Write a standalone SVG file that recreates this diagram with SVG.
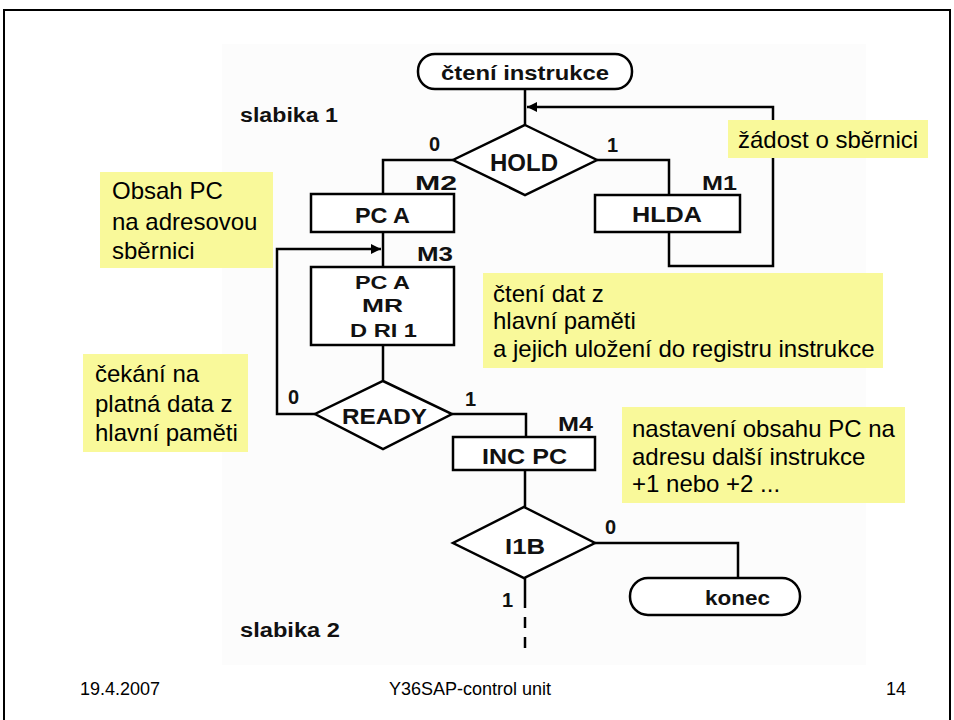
<svg xmlns="http://www.w3.org/2000/svg" width="954" height="720" viewBox="0 0 954 720">
  <style>
    .frame { fill: #ffffff; stroke: #000000; stroke-width: 2; }
    .panel { fill: #fcfcfc; stroke: none; }
    .box { fill: #ffffff; stroke: #000000; stroke-width: 2.5; }
    .term { fill: #ffffff; stroke: #000000; stroke-width: 2.5; }
    .wire { fill: none; stroke: #000000; stroke-width: 2.5; }
    .dash { fill: none; stroke: #000000; stroke-width: 2.5; stroke-dasharray: 11 9; }
    .note { fill: #f9f99a; stroke: none; }
    .fc { font-family: "Liberation Sans", Arial, sans-serif; font-weight: bold; fill: #111111; }
    .nt { font-family: "Liberation Sans", Arial, sans-serif; font-size: 24px; fill: #000000; }
    .ft { font-family: "Liberation Sans", Arial, sans-serif; font-size: 18px; fill: #000000; }
  </style>
  <defs>
    <marker id="arr" viewBox="0 0 10 10" refX="10" refY="5" markerWidth="4" markerHeight="4" orient="auto" markerUnits="strokeWidth">
      <path d="M0,0 L10,5 L0,10 z" fill="#000000"/>
    </marker>
  </defs>

  <!-- slide frame and picture panel -->
  <rect class="frame" x="4" y="10" width="946" height="714"/>
  <rect class="panel" x="222" y="44" width="644" height="621"/>

  <!-- connectors -->
  <g id="connectors">
    <path class="wire" d="M525,90 V125"/>
    <path class="wire" d="M453,160 H383 V194"/>
    <path class="wire" d="M597,160 H669 V195"/>
    <path class="wire" d="M669,232 V266 H773 V107 H527" marker-end="url(#arr)"/>
    <path class="wire" d="M383,232 V267"/>
    <path class="wire" d="M383,345 V380"/>
    <path class="wire" d="M315,414 H277 V249 H381" marker-end="url(#arr)"/>
    <path class="wire" d="M452,414 H526 V437"/>
    <path class="wire" d="M525,470 V507"/>
    <path class="wire" d="M595,543 H738 V578"/>
    <path class="wire" d="M525,578 V608"/>
    <path class="dash" d="M525,617 V652"/>
  </g>

  <!-- flowchart nodes -->
  <g id="start">
    <rect class="term" x="418" y="54" width="214" height="35" rx="17"/>
    <text class="fc" x="525" y="80" font-size="21" text-anchor="middle" textLength="168" lengthAdjust="spacingAndGlyphs">čtení instrukce</text>
  </g>

  <g id="hold">
    <polygon class="box" points="525,125 597,160 525,195 453,160"/>
    <text class="fc" x="524" y="171" font-size="24" text-anchor="middle" textLength="68" lengthAdjust="spacingAndGlyphs">HOLD</text>
    <text class="fc" x="429" y="151" font-size="20">0</text>
    <text class="fc" x="607" y="152" font-size="20">1</text>
  </g>

  <g id="pca">
    <rect class="box" x="311" y="194" width="143" height="38"/>
    <text class="fc" x="415" y="190" font-size="21" textLength="42" lengthAdjust="spacingAndGlyphs">M2</text>
    <text class="fc" x="355" y="223" font-size="22" textLength="55" lengthAdjust="spacingAndGlyphs">PC A</text>
  </g>

  <g id="hlda">
    <rect class="box" x="595" y="195" width="145" height="37"/>
    <text class="fc" x="702" y="190" font-size="21" textLength="35" lengthAdjust="spacingAndGlyphs">M1</text>
    <text class="fc" x="632" y="222" font-size="22" textLength="70" lengthAdjust="spacingAndGlyphs">HLDA</text>
  </g>

  <g id="read">
    <rect class="box" x="311" y="267" width="143" height="78"/>
    <text class="fc" x="417" y="261" font-size="21" textLength="36" lengthAdjust="spacingAndGlyphs">M3</text>
    <text class="fc" x="355" y="289" font-size="19" textLength="55" lengthAdjust="spacingAndGlyphs">PC A</text>
    <text class="fc" x="362" y="312" font-size="19" textLength="41" lengthAdjust="spacingAndGlyphs">MR</text>
    <text class="fc" x="350" y="337" font-size="19" textLength="67" lengthAdjust="spacingAndGlyphs">D RI 1</text>
  </g>

  <g id="ready">
    <polygon class="box" points="383,381 452,414 383,449 315,414"/>
    <text class="fc" x="342" y="424" font-size="22" textLength="85" lengthAdjust="spacingAndGlyphs">READY</text>
    <text class="fc" x="288" y="404" font-size="20">0</text>
    <text class="fc" x="465" y="406" font-size="20">1</text>
  </g>

  <g id="incpc">
    <rect class="box" x="453" y="437" width="142" height="33"/>
    <text class="fc" x="558" y="431" font-size="21" textLength="35" lengthAdjust="spacingAndGlyphs">M4</text>
    <text class="fc" x="482" y="464" font-size="22" textLength="85" lengthAdjust="spacingAndGlyphs">INC PC</text>
  </g>

  <g id="i1b">
    <polygon class="box" points="524,507 595,543 524,578 453,543"/>
    <text class="fc" x="505" y="554" font-size="22" textLength="40" lengthAdjust="spacingAndGlyphs">I1B</text>
    <text class="fc" x="605" y="534" font-size="20">0</text>
    <text class="fc" x="502" y="607" font-size="20">1</text>
  </g>

  <g id="end">
    <rect class="term" x="630" y="578" width="170" height="37" rx="18"/>
    <text class="fc" x="705" y="605" font-size="20" textLength="65" lengthAdjust="spacingAndGlyphs">konec</text>
  </g>

  <g id="byte-labels">
    <text class="fc" x="240" y="122" font-size="20" textLength="98" lengthAdjust="spacingAndGlyphs">slabika 1</text>
    <text class="fc" x="240" y="637" font-size="20" textLength="100" lengthAdjust="spacingAndGlyphs">slabika 2</text>
  </g>

  <!-- annotation notes -->
  <g id="note-bus-request">
    <rect class="note" x="728" y="120" width="200" height="38"/>
    <text class="nt" x="738" y="148">žádost o sběrnici</text>
  </g>
  <g id="note-pc-address">
    <rect class="note" x="100" y="172" width="173" height="96"/>
    <text class="nt" x="112" y="199">Obsah PC</text>
    <text class="nt" x="112" y="230">na adresovou</text>
    <text class="nt" x="112" y="259">sběrnici</text>
  </g>
  <g id="note-read-data">
    <rect class="note" x="483" y="273" width="400" height="95"/>
    <text class="nt" x="493" y="302">čtení dat z</text>
    <text class="nt" x="493" y="329">hlavní paměti</text>
    <text class="nt" x="493" y="357">a jejich uložení do registru instrukce</text>
  </g>
  <g id="note-wait">
    <rect class="note" x="83" y="354" width="165" height="98"/>
    <text class="nt" x="95" y="382">čekání na</text>
    <text class="nt" x="95" y="412">platná data z</text>
    <text class="nt" x="95" y="441">hlavní paměti</text>
  </g>
  <g id="note-next-address">
    <rect class="note" x="622" y="407" width="283" height="96"/>
    <text class="nt" x="632" y="437">nastavení obsahu PC na</text>
    <text class="nt" x="632" y="465">adresu další instrukce</text>
    <text class="nt" x="632" y="492">+1 nebo +2 ...</text>
  </g>

  <!-- footer -->
  <g id="footer">
    <text class="ft" x="80" y="695">19.4.2007</text>
    <text class="ft" x="470" y="695" text-anchor="middle">Y36SAP-control unit</text>
    <text class="ft" x="906" y="695" text-anchor="end">14</text>
  </g>
</svg>
